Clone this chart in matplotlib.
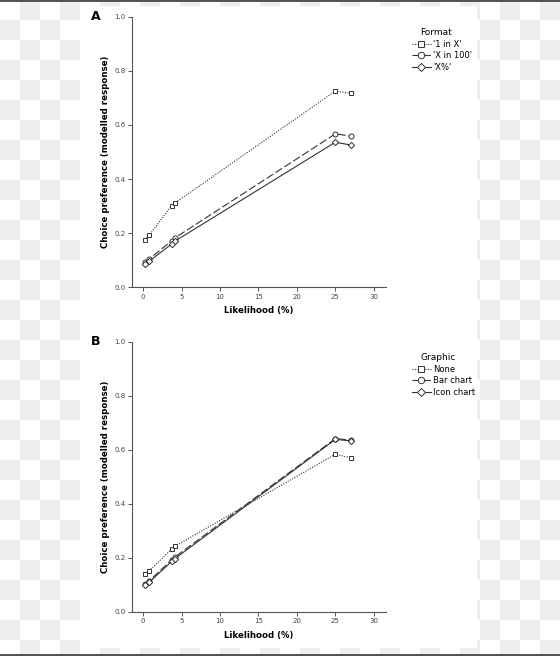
import matplotlib
matplotlib.use("Agg")
from matplotlib import pyplot as plt
from matplotlib.patches import Rectangle
from matplotlib.lines import Line2D

# likelihood values (%) shown on the x axis
likelihood = [0.2, 0.8, 3.7, 4.1, 25, 27]

# panel A: format
format_names = ["'1 in X'", "'X in 100'", "'X%'"]
one_in_x = [0.175, 0.193, 0.302, 0.311, 0.725, 0.717]
x_in_100 = [0.095, 0.105, 0.172, 0.182, 0.567, 0.559]
x_percent = [0.087, 0.097, 0.160, 0.170, 0.536, 0.526]

# panel B: graphic
graphic_names = ["None", "Bar chart", "Icon chart"]
none_graphic = [0.139, 0.152, 0.232, 0.242, 0.583, 0.570]
bar_chart = [0.102, 0.115, 0.192, 0.202, 0.641, 0.636]
icon_chart = [0.098, 0.110, 0.186, 0.196, 0.638, 0.633]

W, H = 560, 656
LINE = "#333333"

styles = [
    dict(marker="s", linestyle=(0, (1, 1.3)), markersize=3.4),
    dict(marker="o", linestyle=(0, (7, 2.5)), markersize=3.6),
    dict(marker="D", linestyle="-", markersize=3.2),
]


def px_rect(fig, x0, y0, x1, y1, color):
    # rectangle given in pixel coords measured from the top left
    fig.patches.append(Rectangle((x0 / W, 1 - y1 / H), (x1 - x0) / W, (y1 - y0) / H,
                                 transform=fig.transFigure, facecolor=color,
                                 edgecolor="none", zorder=-10))


def draw_panel(ax, series, names, title, letter):
    for vals, name, st in zip(series, names, styles):
        ax.plot(likelihood, vals, color=LINE, linewidth=0.8, marker=st["marker"],
                linestyle=st["linestyle"], markersize=st["markersize"],
                markerfacecolor="white", markeredgecolor=LINE, markeredgewidth=0.7,
                label=name, clip_on=False)
    ax.set_xlim(-1.5, 31.6)
    ax.set_ylim(0, 1.0)
    ax.set_xticks([0, 5, 10, 15, 20, 25, 30])
    ax.set_yticks([0.0, 0.2, 0.4, 0.6, 0.8, 1.0])
    ax.set_yticklabels(["0.0", "0.2", "0.4", "0.6", "0.8", "1.0"])
    ax.set_facecolor("none")
    for s in ["top", "right"]:
        ax.spines[s].set_visible(False)
    for s in ["left", "bottom"]:
        ax.spines[s].set_color("#555555")
        ax.spines[s].set_linewidth(0.8)
    ax.tick_params(direction="out", length=3, width=0.7, color="#555555",
                   labelsize=5, labelcolor="#444444", pad=1.5)
    ax.set_xlabel("Likelihood (%)", fontsize=6.2, fontweight="bold", labelpad=5)
    ax.set_ylabel("Choice preference (modelled response)", fontsize=6.2,
                  fontweight="bold", labelpad=3)
    ax.text(-0.16, 1.0, letter, transform=ax.transAxes, fontsize=9,
            fontweight="bold", va="center", ha="left")

    handles = [Line2D([0], [0], color=LINE, linewidth=0.8, linestyle=st["linestyle"],
                      marker=st["marker"], markersize=st["markersize"] + 1.0,
                      markerfacecolor="white", markeredgecolor=LINE,
                      markeredgewidth=0.7) for st in styles]
    leg = ax.legend(handles, names, title=title, loc="upper left",
                    bbox_to_anchor=(1.09, 0.97), frameon=False, fontsize=6,
                    title_fontsize=6.5, handlelength=2.2, handletextpad=0.3,
                    labelspacing=0.3, borderaxespad=0)
    leg._legend_box.align = "left"
    leg.get_title().set_position((8, 0))


fig = plt.figure(figsize=(W / 100, H / 100), dpi=100)
fig.patch.set_facecolor("white")

# checkered backdrop around the picture
for row in range(H // 20 + 1):
    for col in range(W // 20 + 1):
        if (row + col) % 2 == 1:
            px_rect(fig, col * 20, row * 20, col * 20 + 20, row * 20 + 20, "#eeeeee")
px_rect(fig, 80, 6, 477, 648, "white")
px_rect(fig, 0, 0, W, 1.5, "#555555")
px_rect(fig, 0, H - 2, W, H, "#555555")

ax_a = fig.add_axes([131.7 / W, 1 - 287.3 / H, (386 - 131.7) / W, (287.3 - 16.7) / H])
ax_b = fig.add_axes([131.7 / W, 1 - 611.7 / H, (386 - 131.7) / W, (611.7 - 341.7) / H])

draw_panel(ax_a, [one_in_x, x_in_100, x_percent], format_names, "Format", "A")
draw_panel(ax_b, [none_graphic, bar_chart, icon_chart], graphic_names, "Graphic", "B")

fig.savefig("out.png", dpi=100)
